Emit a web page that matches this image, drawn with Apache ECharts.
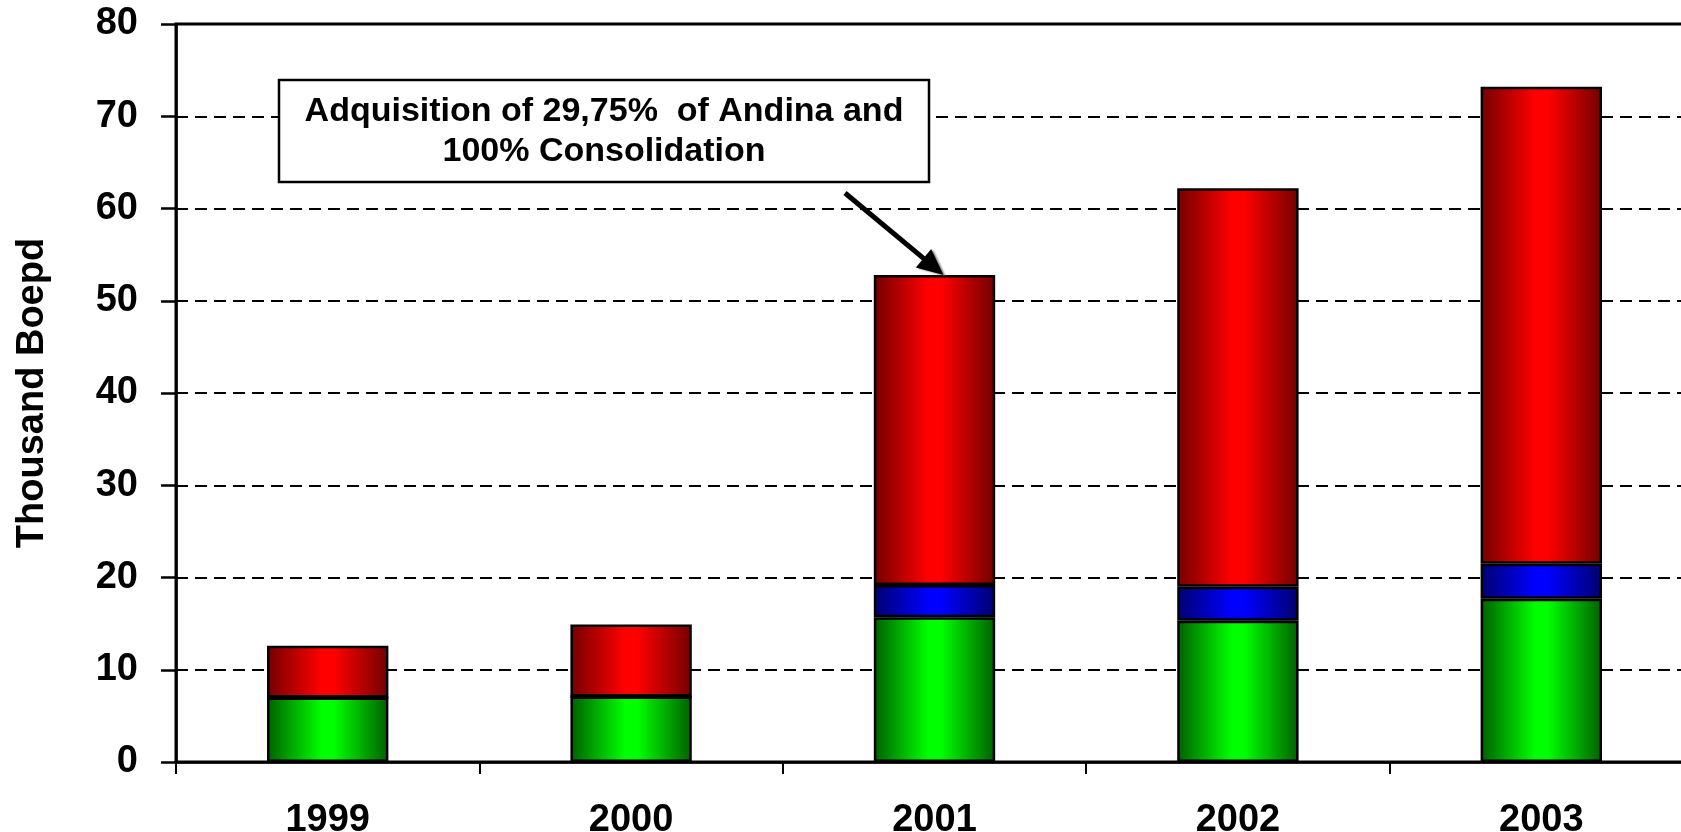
<!DOCTYPE html>
<html>
<head>
<meta charset="utf-8">
<title>Thousand Boepd 1999-2003</title>
<script src="https://cdn.jsdelivr.net/npm/echarts@6/dist/echarts.min.js"></script>
<style>
  html, body { margin: 0; padding: 0; background: #ffffff; overflow: hidden; }
  #chart { width: 1681px; height: 832px; }
</style>
</head>
<body>
<div id="chart"></div>
<script>
// Production by year, thousand barrels of oil equivalent per day
const years = ['1999', '2000', '2001', '2002', '2003'];
const greenValues = [7.0, 7.1, 15.7, 15.3, 17.7];
const blueValues = [0, 0, 3.5, 3.7, 3.8];
const redValues = [5.6, 7.8, 33.6, 43.2, 51.7];

const annotationLines = ['Adquisition of 29,75%  of Andina and', '100% Consolidation'];
const annotatedYear = '2001';

const FONT = '"Liberation Sans", Arial, sans-serif';

// Horizontal shading: dark at both edges, bright a little left of centre
function shade(dark, bright) {
  return {
    type: 'linear', x: 0, y: 0, x2: 1, y2: 0,
    colorStops: [
      { offset: 0, color: dark },
      { offset: 0.45, color: bright },
      { offset: 0.55, color: bright },
      { offset: 1, color: dark }
    ]
  };
}

function barSeries(name, data, dark, bright) {
  return {
    name: name,
    type: 'bar',
    stack: 'total',
    barWidth: '40%',
    data: data,
    itemStyle: {
      color: shade(dark, bright),
      borderColor: '#000000',
      borderWidth: 2.5
    },
    emphasis: { disabled: true }
  };
}

const chart = echarts.init(document.getElementById('chart'), null, { renderer: 'canvas' });

// The plot area runs a little past the right edge of the page
chart.setOption({
  animation: false,
  backgroundColor: '#ffffff',
  grid: {
    left: 176, top: 24, width: 1517, height: 738,
    containLabel: false,
    outerBoundsMode: 'none',
    show: true, borderColor: '#000000', borderWidth: 3,
    backgroundColor: 'transparent'
  },
  xAxis: {
    type: 'category',
    data: years,
    axisLine: { lineStyle: { color: '#000000', width: 2.5 } },
    axisTick: { show: true, length: 12, lineStyle: { color: '#000000', width: 2 } },
    axisLabel: {
      color: '#000000', fontFamily: FONT, fontWeight: 'bold', fontSize: 38, margin: 40
    }
  },
  yAxis: {
    type: 'value',
    min: 0, max: 80, interval: 10,
    name: 'Thousand Boepd',
    nameLocation: 'middle',
    nameGap: 124,
    nameRotate: 90,
    nameTextStyle: { color: '#000000', fontFamily: FONT, fontWeight: 'bold', fontSize: 38 },
    axisLine: { show: true, lineStyle: { color: '#000000', width: 2.5 } },
    axisTick: { show: true, length: 15, lineStyle: { color: '#000000', width: 2.5 } },
    axisLabel: {
      color: '#000000', fontFamily: FONT, fontWeight: 'bold', fontSize: 38, margin: 38
    },
    splitLine: {
      show: true,
      lineStyle: { color: '#000000', width: 2, type: [12, 7] }
    }
  },
  series: [
    barSeries('base', greenValues, '#005f00', '#00ff00'),
    barSeries('middle', blueValues, '#000070', '#0000ff'),
    barSeries('top', redValues, '#730000', '#ff0000')
  ]
});

// Callout box with an arrow pointing at the top of the annotated bar
const idx = years.indexOf(annotatedYear);
const stackTop = greenValues[idx] + blueValues[idx] + redValues[idx];
const tip = chart.convertToPixel({ gridIndex: 0 }, [annotatedYear, stackTop]);
const tipX = tip[0] + 9;
const tipY = tip[1];

const box = { x: 279, y: 80, w: 650, h: 102 };
const tail = [845, 193];
const dx = tipX - tail[0];
const dy = tipY - tail[1];
const len = Math.sqrt(dx * dx + dy * dy);
const ux = dx / len, uy = dy / len;
const headLen = 26, headHalf = 12;
const baseX = tipX - ux * headLen, baseY = tipY - uy * headLen;

chart.setOption({
  graphic: [
    {
      type: 'rect',
      shape: { x: box.x, y: box.y, width: box.w, height: box.h },
      style: { fill: '#ffffff', stroke: '#000000', lineWidth: 2.5 },
      z: 100
    },
    {
      type: 'text',
      x: box.x + box.w / 2, y: 112,
      style: {
        text: annotationLines[0], fill: '#000000', font: 'bold 34px ' + FONT,
        align: 'center', verticalAlign: 'middle'
      },
      z: 101
    },
    {
      type: 'text',
      x: box.x + box.w / 2, y: 152,
      style: {
        text: annotationLines[1], fill: '#000000', font: 'bold 34px ' + FONT,
        align: 'center', verticalAlign: 'middle'
      },
      z: 101
    },
    {
      type: 'line',
      shape: { x1: tail[0], y1: tail[1], x2: baseX + ux * 4, y2: baseY + uy * 4 },
      style: { stroke: '#000000', lineWidth: 5 },
      z: 100
    },
    {
      type: 'polygon',
      shape: {
        points: [
          [tipX, tipY],
          [baseX - uy * headHalf, baseY + ux * headHalf],
          [baseX + uy * headHalf, baseY - ux * headHalf]
        ]
      },
      style: {
        fill: '#000000',
        shadowColor: 'rgba(120,120,120,0.9)', shadowBlur: 2, shadowOffsetX: 2, shadowOffsetY: 1
      },
      z: 100
    }
  ]
});
</script>
</body>
</html>
